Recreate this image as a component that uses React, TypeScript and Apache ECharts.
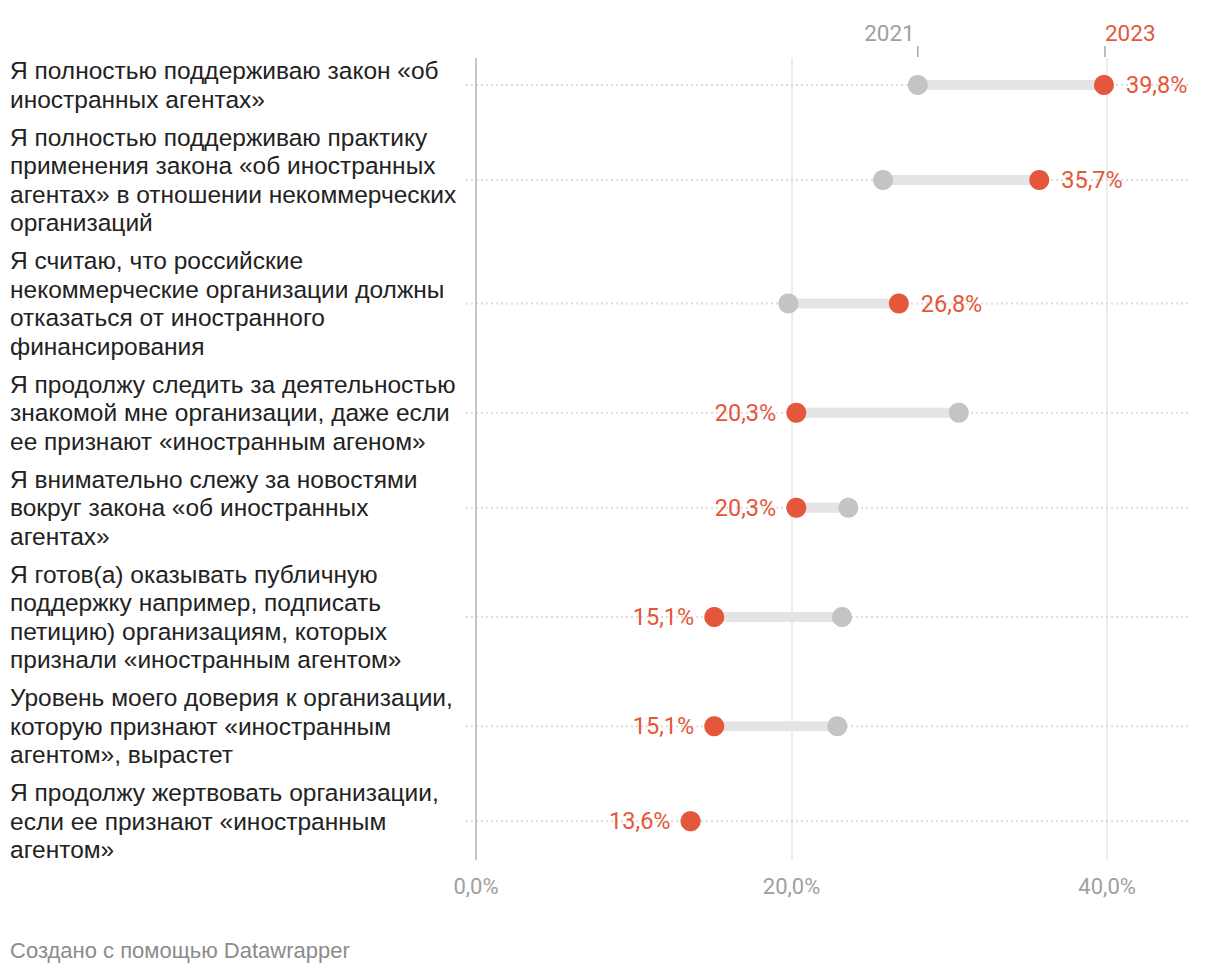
import React, { useEffect, useRef } from "react";
import * as echarts from "echarts";

const CATEGORIES = [
  "Я полностью поддерживаю закон «об\nиностранных агентах»",
  "Я полностью поддерживаю практику\nприменения закона «об иностранных\nагентах» в отношении некоммерческих\nорганизаций",
  "Я считаю, что российские\nнекоммерческие организации должны\nотказаться от иностранного\nфинансирования",
  "Я продолжу следить за деятельностью\nзнакомой мне организации, даже если\nее признают «иностранным агеном»",
  "Я внимательно слежу за новостями\nвокруг закона «об иностранных\nагентах»",
  "Я готов(а) оказывать публичную\nподдержку например, подписать\nпетицию) организациям, которых\nпризнали «иностранным агентом»",
  "Уровень моего доверия к организации,\nкоторую признают «иностранным\nагентом», вырастет",
  "Я продолжу жертвовать организации,\nесли ее признают «иностранным\nагентом»",
];
const V2021 = [28.0, 25.8, 19.8, 30.6, 23.6, 23.2, 22.9, 13.6];
const V2023 = [39.8, 35.7, 26.8, 20.3, 20.3, 15.1, 15.1, 13.6];
const YEARS = ["2021", "2023"];
const FOOTER = "Создано с помощью Datawrapper";

const GRAY = "#c4c4c4";
const RED = "#e5573a";
const FONT = "Roboto, 'Noto Sans', sans-serif";
const LABEL_FONT = "'Liberation Sans', Arial, sans-serif";

const LINE_H = 28.5;
const ROW_GAP = 9.5;
const ROWS_TOP = 51.75;
const Y_MIN = 58;
const Y_MAX = 860;

function fmt(v: number) {
  return v.toFixed(1).replace(".", ",") + "%";
}

export default function App() {
  const ref = useRef<HTMLDivElement>(null);
  useEffect(() => {
    if (!ref.current) return;
    const chart = echarts.init(ref.current, null, { renderer: "svg" });

    const lineCounts = CATEGORIES.map((c) => c.split("\n").length);
    const centers: number[] = [];
    let acc = ROWS_TOP;
    lineCounts.forEach((n) => {
      const h = n * LINE_H + ROW_GAP;
      centers.push(acc + h / 2);
      acc += h;
    });

    const labelGraphics = CATEGORIES.map((c, i) => ({
      type: "text",
      x: 10,
      y: centers[i],
      silent: true,
      style: {
        text: c,
        font: `24.5px ${LABEL_FONT}`,
        fill: "#222222",
        lineHeight: LINE_H,
        align: "left",
        verticalAlign: "middle",
      },
    }));

    chart.setOption({
      animation: false,
      grid: { left: 476, right: 34, top: Y_MIN, bottom: 976 - Y_MAX },
      xAxis: {
        type: "value",
        min: 0,
        max: 45,
        interval: 20,
        axisLine: { show: false },
        axisTick: { show: false },
        axisLabel: {
          margin: 15,
          color: "#a0a0a0",
          fontSize: 22,
          fontFamily: FONT,
          showMaxLabel: false,
          formatter: (v: number) => (v % 20 === 0 ? fmt(v) : ""),
        },
        splitLine: {
          show: true,
          lineStyle: {
            color: ["rgba(0,0,0,0)", "#e6e6e6", "#e6e6e6", "rgba(0,0,0,0)"],
            width: 1.5,
          },
        },
      },
      yAxis: {
        type: "value",
        min: Y_MIN,
        max: Y_MAX,
        inverse: true,
        show: false,
        splitLine: { show: false },
      },
      graphic: [
        ...labelGraphics,
        {
          type: "text",
          x: 10,
          y: 950,
          silent: true,
          style: {
            text: FOOTER,
            font: `22px ${LABEL_FONT}`,
            fill: "#8c8c8c",
            align: "left",
            verticalAlign: "middle",
          },
        },
      ],
      series: [
        {
          type: "custom",
          name: "rows",
          z: 1,
          silent: true,
          encode: { y: 0 },
          data: centers.map((c) => [c]),
          renderItem: (params: any, api: any) => {
            const y = api.value(0);
            const a = api.coord([0, y]);
            const b = api.coord([45, y]);
            return {
              type: "line",
              shape: { x1: a[0] - 10, y1: a[1], x2: b[0] + 2, y2: b[1] },
              style: { stroke: "#dcdcdc", lineWidth: 2, lineDash: [2, 3] },
            };
          },
        },
        {
          type: "custom",
          name: "zero",
          z: 2,
          silent: true,
          encode: { x: 0, y: [1, 2] },
          data: [[0, Y_MIN, Y_MAX]],
          renderItem: (params: any, api: any) => {
            const a = api.coord([api.value(0), api.value(1)]);
            const b = api.coord([api.value(0), api.value(2)]);
            return {
              type: "line",
              shape: { x1: a[0], y1: a[1], x2: b[0], y2: b[1] },
              style: { stroke: "#c6c6c6", lineWidth: 2 },
            };
          },
        },
        {
          type: "custom",
          name: "header",
          z: 2,
          silent: true,
          encode: { x: [0, 1], y: 2 },
          data: [[V2021[0], V2023[0], centers[0]]],
          renderItem: (params: any, api: any) => {
            const p1 = api.coord([api.value(0), api.value(2)]);
            const p2 = api.coord([api.value(1), api.value(2)]);
            const x1 = p1[0];
            const x2 = p2[0] + 1;
            return {
              type: "group",
              children: [
                {
                  type: "text",
                  x: x1 - 3,
                  y: 33,
                  style: {
                    text: YEARS[0],
                    font: `22.5px ${FONT}`,
                    fill: "#a0a0a0",
                    align: "right",
                    verticalAlign: "middle",
                  },
                },
                {
                  type: "line",
                  shape: { x1: x1, y1: 46, x2: x1, y2: 57 },
                  style: { stroke: "#a8a8a8", lineWidth: 1.5 },
                },
                {
                  type: "text",
                  x: x2,
                  y: 33,
                  style: {
                    text: YEARS[1],
                    font: `22.5px ${FONT}`,
                    fill: RED,
                    align: "left",
                    verticalAlign: "middle",
                  },
                },
                {
                  type: "line",
                  shape: { x1: x2, y1: 46, x2: x2, y2: 57 },
                  style: { stroke: "#a8a8a8", lineWidth: 1.5 },
                },
              ],
            };
          },
        },
        {
          type: "custom",
          name: "bars",
          z: 3,
          silent: true,
          encode: { x: [0, 1], y: 2 },
          data: CATEGORIES.map((_, i) => [V2021[i], V2023[i], centers[i]]),
          renderItem: (params: any, api: any) => {
            const a = api.coord([api.value(0), api.value(2)]);
            const b = api.coord([api.value(1), api.value(2)]);
            return {
              type: "line",
              shape: { x1: a[0], y1: a[1], x2: b[0], y2: b[1] },
              style: { stroke: "#e4e4e4", lineWidth: 10 },
            };
          },
        },
        {
          type: "scatter",
          name: YEARS[0],
          z: 4,
          symbol: "circle",
          symbolSize: 20,
          itemStyle: { color: GRAY, opacity: 1 },
          data: CATEGORIES.map((_, i) => [V2021[i], centers[i]]),
        },
        {
          type: "scatter",
          name: YEARS[1],
          z: 5,
          symbol: "circle",
          symbolSize: 20,
          itemStyle: { color: RED, opacity: 1 },
          data: CATEGORIES.map((_, i) => {
            const right = V2023[i] > V2021[i];
            return {
              value: [V2023[i], centers[i]],
              label: {
                show: true,
                position: right ? "right" : "left",
                distance: right ? 12 : 10,
                formatter: fmt(V2023[i]),
                color: RED,
                fontSize: 23.5,
                fontFamily: FONT,
              },
            };
          }),
        },
      ],
    });
    return () => chart.dispose();
  }, []);
  return (
    <div
      ref={ref}
      style={{ position: "absolute", left: 0, top: 0, width: 1220, height: 976 }}
    />
  );
}
